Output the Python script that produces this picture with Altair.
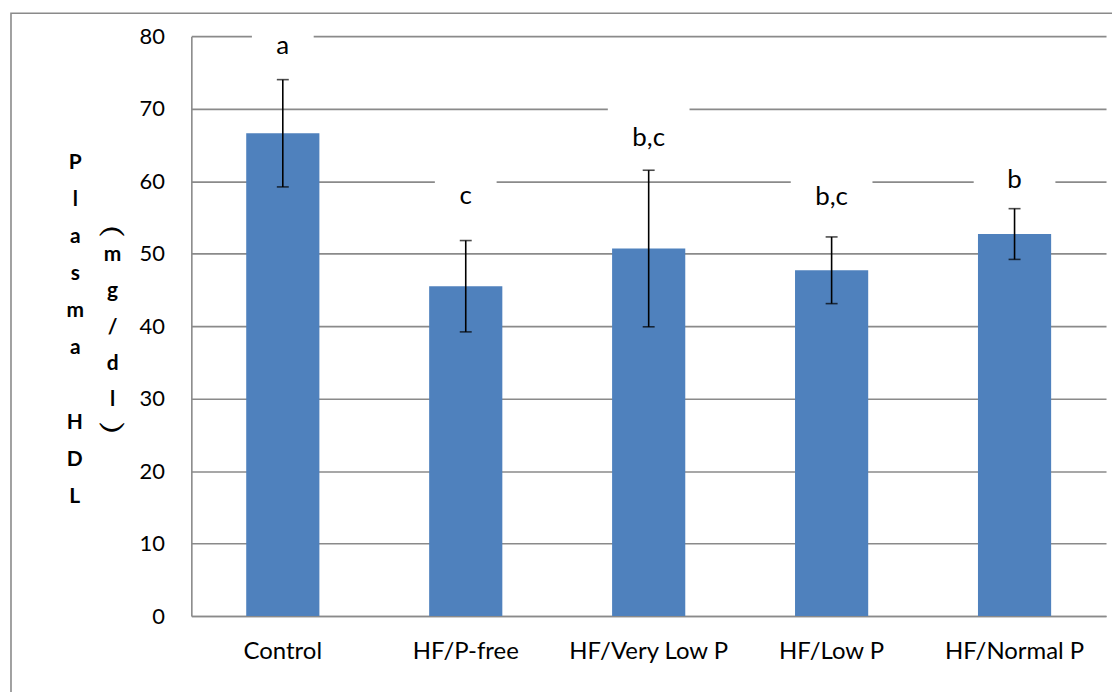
import altair as alt
import pandas as pd

# ---- data ----
groups = ["Control", "HF/P-free", "HF/Very Low P", "HF/Low P", "HF/Normal P"]
means = [66.6, 45.5, 50.7, 47.7, 52.7]
sds = [7.4, 6.3, 10.8, 4.6, 3.5]
letters = ["a", "c", "b,c", "b,c", "b"]
letter_y = [78.6, 58.0, 65.9, 57.8, 60.1]
box_w = [62, 62, 82, 82, 82]

title_main = ["P", "l", "a", "s", "m", "a"]
title_main2 = ["H", "D", "L"]
title_unit = ["m", "g", "/", "d", "l"]
paren_open = "\ufe35"
paren_close = "\ufe36"

df = pd.DataFrame({
    "group": groups,
    "mean": means,
    "lo": [m - s for m, s in zip(means, sds)],
    "hi": [m + s for m, s in zip(means, sds)],
    "letter": letters,
    "ly": letter_y,
    "lb": [v - 2.0 for v in letter_y],
    "lt": [v + 4.6 for v in letter_y],
    "bw": box_w,
})

FONT = "Lato"
GRAY = "#8a8a8a"
W, H = 918, 582

xenc = alt.X("group:N", sort=groups,
             scale=alt.Scale(paddingInner=0.6, paddingOuter=0.3),
             axis=alt.Axis(title=None, labelAngle=0, labelFont=FONT, labelFontSize=24,
                           labelColor="black", labelPadding=24, ticks=False, tickSize=0,
                           domainColor=GRAY, domainWidth=1.6, grid=False))

yscale = alt.Scale(domain=[0, 80], nice=False, zero=True)
yaxis = alt.Axis(values=list(range(0, 81, 10)), ticks=False, tickSize=0,
                 labelFont=FONT, labelFontSize=22, labelColor="black", labelPadding=27,
                 domainColor=GRAY, domainWidth=1.6, gridColor=GRAY, gridWidth=1.6,
                 title=title_main, titleAngle=0, titleFont=FONT, titleFontSize=21,
                 titleFontWeight="bold", titleColor="black", titleAlign="center",
                 titleBaseline="middle", titleLineHeight=37.2, titleX=-117, titleY=127)

base = alt.Chart(df)

boxes = base.mark_bar(color="white").encode(
    x=xenc,
    y=alt.Y("lb:Q", scale=yscale, axis=yaxis),
    y2="lt:Q",
    size=alt.Size("bw:Q", scale=None, legend=None),
)

bars = base.mark_bar(color="#4F81BD").encode(
    x=alt.X("group:N", sort=groups),
    y=alt.Y("mean:Q"),
)

err = base.mark_rule(color="black", strokeWidth=1.6).encode(
    x=alt.X("group:N", sort=groups),
    y="lo:Q",
    y2="hi:Q",
)

cap_hi = base.mark_tick(color="black", thickness=1.6, size=12).encode(
    x=alt.X("group:N", sort=groups),
    y="hi:Q",
)
cap_lo = base.mark_tick(color="black", thickness=1.6, size=12).encode(
    x=alt.X("group:N", sort=groups),
    y="lo:Q",
)

labels = base.mark_text(font=FONT, fontSize=26, color="black", baseline="middle").encode(
    x=alt.X("group:N", sort=groups),
    y="ly:Q",
    text="letter:N",
)

one = alt.Chart(pd.DataFrame({"k": [0]}))

main2 = one.mark_text(text="\n".join(title_main2), lineBreak="\n", lineHeight=37.2,
                      font=FONT, fontSize=21, fontWeight="bold", color="black",
                      align="center", baseline="middle").encode(
    x=alt.value(-117), y=alt.value(388.5)
)

unit_body = one.mark_text(text="\n".join(title_unit), lineBreak="\n", lineHeight=36.25,
                          font=FONT, fontSize=21, fontWeight="bold", color="black",
                          align="center", baseline="middle").encode(
    x=alt.value(-79), y=alt.value(220)
)
unit_open = one.mark_text(text=paren_open, font=FONT, fontSize=28, fontWeight="bold",
                          color="black", align="center", baseline="middle").encode(
    x=alt.value(-79), y=alt.value(193)
)
unit_close = one.mark_text(text=paren_close, font=FONT, fontSize=28, fontWeight="bold",
                           color="black", align="center", baseline="middle").encode(
    x=alt.value(-79), y=alt.value(397)
)

frame = one.mark_rect(fill="transparent", stroke=GRAY, strokeWidth=1.6).encode(
    x=alt.value(-181), x2=alt.value(W + 40), y=alt.value(-23), y2=alt.value(H + 120)
)

chart = alt.layer(boxes, bars, err, cap_hi, cap_lo, labels, main2,
                  unit_body, unit_open, unit_close, frame).properties(
    width=W, height=H,
    autosize=alt.AutoSizeParams(type="none"),
    padding={"left": 184, "top": 27, "right": 6, "bottom": 75},
    background="white",
).configure_view(stroke=None)

chart.save("out.html", embed_options={"renderer": "svg", "actions": False})
